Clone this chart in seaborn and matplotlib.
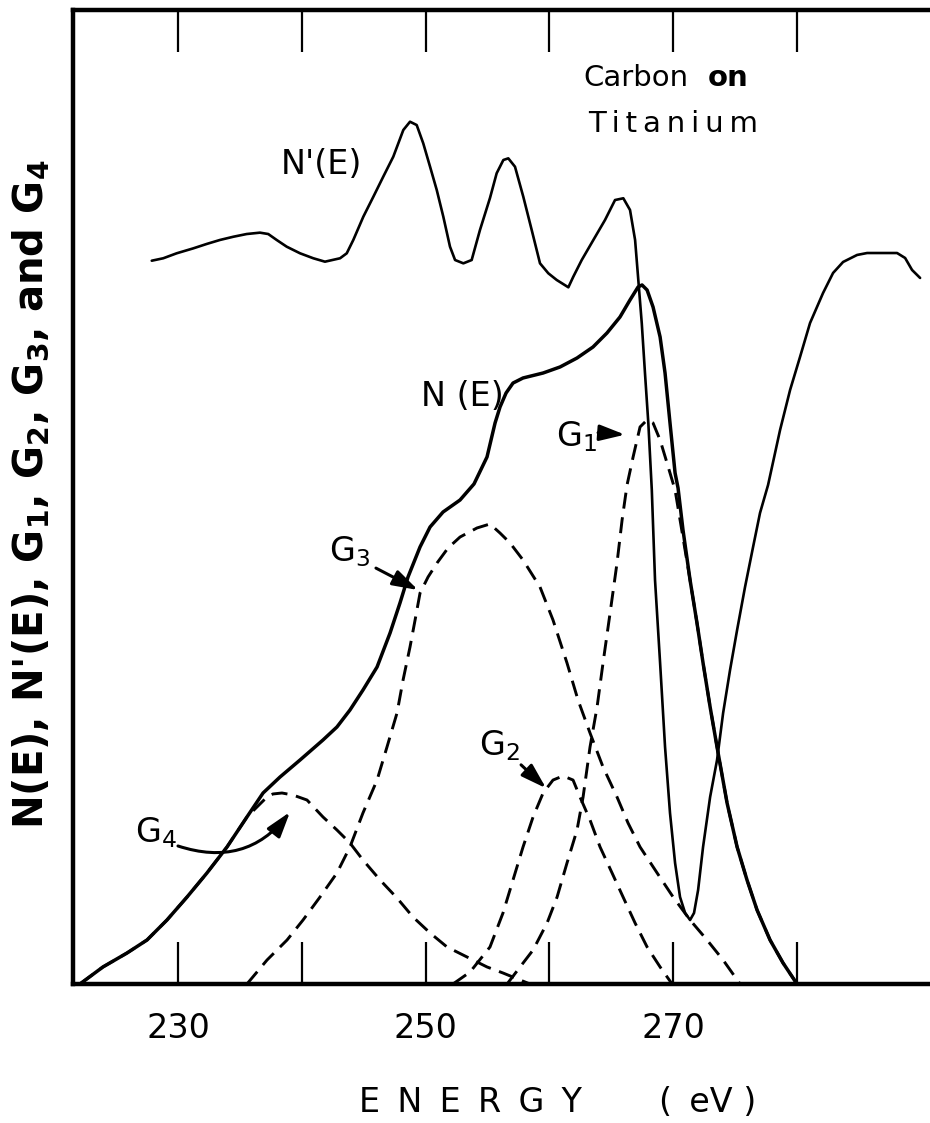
import matplotlib
matplotlib.use("Agg")
import matplotlib.pyplot as plt
import seaborn as sns

# ---------------- data ----------------
# N'(E): derivative spectrum
nprime_energy = [227.88, 228.81, 229.89, 231.24, 232.32, 233.39, 234.47, 235.55, 236.62, 237.29,
                 237.97, 238.78, 239.86, 240.93, 241.87, 243.09, 243.63, 244.16, 244.97, 245.78,
                 246.58, 247.39, 248.20, 248.74, 249.28, 249.81, 250.36, 250.90, 251.43, 251.97,
                 252.38, 253.05, 253.72, 254.39, 255.20, 255.74, 256.28, 256.68, 257.22, 257.89,
                 258.57, 259.24, 259.91, 260.59, 261.53, 261.93, 262.61, 263.55, 264.49, 265.30,
                 265.97, 266.51, 266.92, 267.18, 267.46, 267.72, 267.99, 268.27, 268.53, 268.94,
                 269.34, 269.74, 270.15, 270.55, 270.96, 271.36, 271.68, 272.01, 272.41, 272.98,
                 273.54, 274.03, 274.59, 275.16, 275.80, 276.45, 277.01, 277.66, 278.63, 279.44,
                 280.24, 281.05, 282.10, 282.91, 283.72, 284.85, 285.66, 286.95, 288.08, 288.73,
                 289.29, 289.94]
nprime_value = [74.26, 74.51, 75.02, 75.53, 75.98, 76.39, 76.72, 77.00, 77.14, 77.00,
                76.39, 75.70, 75.02, 74.51, 74.16, 74.51, 75.02, 76.39, 78.78, 80.83,
                82.89, 84.94, 87.68, 88.53, 88.19, 86.31, 83.91, 81.52, 78.78, 75.70,
                74.33, 73.99, 74.33, 77.41, 80.70, 83.24, 84.60, 84.77, 83.91, 80.83,
                77.41, 73.99, 72.97, 72.28, 71.53, 72.62, 74.33, 76.39, 78.44, 80.49,
                80.67, 79.47, 76.39, 72.28, 67.83, 62.70, 57.57, 50.72, 41.48, 32.96,
                24.33, 17.56, 12.42, 8.93, 7.29, 6.57, 7.29, 9.65, 14.07, 19.20,
                23.00, 27.82, 32.24, 36.35, 40.76, 44.87, 48.36, 51.23, 56.88, 60.99,
                64.37, 67.86, 70.94, 73.00, 74.13, 74.85, 75.05, 75.05, 75.05, 74.54,
                73.31, 72.49]

# N(E): energy distribution
ne_energy = [222.08, 223.94, 225.88, 227.50, 229.11, 230.73, 232.34, 233.96, 235.57, 236.87,
             238.24, 239.86, 241.71, 242.84, 243.89, 244.94, 246.08, 247.13, 247.93, 248.58,
             249.55, 250.36, 251.41, 252.78, 253.91, 254.96, 255.61, 256.01, 256.50, 257.06,
             257.87, 259.49, 260.86, 262.23, 263.52, 264.65, 265.70, 266.51, 267.16, 267.48,
             267.89, 268.37, 268.94, 269.34, 269.74, 270.15, 270.39, 270.79, 271.36, 271.92,
             272.41, 272.98, 273.54, 274.35, 275.16, 275.96, 276.77, 277.82, 278.87, 280.00]
ne_value = [0.0, 1.75, 3.18, 4.52, 6.57, 8.93, 11.40, 14.07, 17.15, 19.61,
            21.25, 23.00, 25.05, 26.39, 28.13, 30.18, 32.55, 36.04, 39.12, 41.79,
            44.87, 46.92, 48.46, 49.69, 51.34, 54.11, 57.60, 59.24, 60.68, 61.70,
            62.22, 62.73, 63.35, 64.27, 65.40, 66.84, 68.48, 70.23, 71.56, 71.77,
            71.25, 69.51, 66.43, 62.73, 57.60, 52.46, 50.92, 46.61, 41.48, 37.06,
            32.96, 28.44, 24.33, 18.58, 14.07, 10.68, 7.60, 4.52, 2.16, 0.0]

# Gaussian components
g1_energy = [256.58, 257.63, 258.68, 259.81, 260.62, 261.42, 262.23, 262.72, 263.28, 263.85,
             264.33, 264.90, 265.46, 265.87, 266.27, 266.76, 267.32, 267.89, 268.37, 268.94,
             269.50, 270.15, 271.36, 271.92, 272.41, 272.98, 273.54, 274.35, 275.16, 275.96,
             276.77, 277.82, 278.87, 280.00]
g1_value = [0.0, 1.75, 3.49, 6.26, 8.93, 12.42, 15.81, 19.20, 24.33, 28.44,
            32.96, 38.09, 43.22, 47.64, 51.23, 54.11, 57.19, 57.91, 57.60, 55.85,
            53.49, 50.72, 41.48, 37.06, 32.96, 28.44, 24.33, 18.58, 14.07, 10.68,
            7.60, 4.52, 2.16, 0.0]

g2_energy = [252.21, 253.59, 255.20, 256.25, 257.06, 257.87, 258.68, 259.49, 260.29, 261.10,
             261.91, 262.47, 263.28, 264.09, 265.06, 265.95, 266.92, 267.89, 268.94, 269.91]
g2_value = [0.0, 1.23, 3.80, 7.29, 10.68, 14.07, 17.15, 19.61, 20.94, 21.36,
            20.94, 19.20, 16.84, 14.07, 11.40, 8.93, 6.26, 3.80, 1.75, 0.0]

g3_energy = [235.57, 237.19, 238.81, 240.10, 241.47, 242.84, 243.89, 244.94, 246.08, 246.88,
             247.69, 248.18, 248.74, 249.15, 249.55, 250.20, 250.92, 251.81, 252.78, 254.15,
             255.20, 256.01, 256.82, 257.87, 259.24, 260.29, 261.42, 262.31, 263.28, 264.33,
             265.46, 266.35, 267.32, 268.70, 269.99, 271.36, 272.73, 274.03, 275.40]
g3_value = [0.0, 2.46, 4.52, 6.57, 8.93, 11.40, 14.07, 17.56, 20.94, 24.33,
            27.82, 31.21, 34.60, 37.37, 40.14, 41.79, 43.22, 44.76, 45.89, 46.82,
            47.23, 46.30, 45.28, 43.53, 40.76, 37.37, 32.96, 29.16, 25.77, 22.28,
            19.20, 16.53, 14.07, 11.40, 8.93, 6.57, 4.52, 2.46, 0.0]

g4_energy = [222.08, 223.94, 225.88, 227.50, 229.11, 230.73, 232.34, 233.96, 235.57, 237.19,
             237.67, 238.40, 239.29, 240.42, 241.71, 242.84, 243.89, 244.94, 246.32, 247.69,
             248.98, 250.36, 251.73, 253.35, 254.96, 256.25, 258.43]
g4_value = [0.0, 1.75, 3.18, 4.52, 6.57, 8.93, 11.40, 14.07, 17.15, 19.20,
            19.51, 19.61, 19.40, 18.89, 17.15, 15.81, 14.48, 12.73, 10.68, 8.83,
            6.88, 5.24, 3.80, 2.77, 1.75, 1.13, 0.0]

tick_values = [230, 240, 250, 260, 270, 280]
tick_labels = ["230", "", "250", "", "270", ""]

# ---------------- style ----------------
sns.set_theme(style="white")
plt.rcParams['font.family'] = ['DejaVu Sans']
plt.rcParams['mathtext.fontset'] = 'dejavusans'
plt.rcParams['text.color'] = 'black'
plt.rcParams['axes.labelcolor'] = 'black'
plt.rcParams['xtick.color'] = 'black'
plt.rcParams['ytick.color'] = 'black'

W, H = 930, 1123
fig = plt.figure(figsize=(W / 100, H / 100), dpi=100)
fig.patch.set_facecolor('white')
ax = fig.add_axes([73 / W, 139 / H, 857 / W, 974 / H])
ax.set_facecolor('white')


def draw(E, V, lw, dashed=False):
    sns.lineplot(x=E, y=V, ax=ax, color='black', linewidth=lw,
                 sort=False, estimator=None)
    line = ax.lines[-1]
    if dashed:
        line.set_dashes([5.5, 3.0])
        line.set_dash_capstyle('butt')
        line.set_dash_joinstyle('round')
    else:
        line.set_solid_joinstyle('round')
        line.set_solid_capstyle('round')


draw(g4_energy, g4_value, 2.1, dashed=True)
draw(g3_energy, g3_value, 2.1, dashed=True)
draw(g2_energy, g2_value, 2.1, dashed=True)
draw(g1_energy, g1_value, 2.1, dashed=True)
draw(ne_energy, ne_value, 2.5)
draw(nprime_energy, nprime_value, 1.9)

ax.set_xlim(221.52, 290.74)
ax.set_ylim(0, 100)
ax.set_yticks([])
ax.set_xticks(tick_values)
ax.set_xticklabels(tick_labels, fontsize=24, color='black')
ax.tick_params(axis='x', which='both', direction='in', length=30, width=1.6,
               top=True, bottom=True, pad=20, colors='black')
for side in ['left', 'bottom', 'top']:
    ax.spines[side].set_visible(True)
    ax.spines[side].set_linewidth(3.2)
    ax.spines[side].set_color('black')
ax.spines['right'].set_visible(False)
ax.set_xlabel('')
ax.set_ylabel('')

# ---------------- annotations ----------------
ax.text(241.55, 84.1, "N'(E)", fontsize=24, ha='center', va='center')
ax.text(252.94, 60.3, "N (E)", fontsize=24, ha='center', va='center')
ax.text(262.15, 56.2, "G$_1$", fontsize=24, ha='center', va='center')
ax.text(243.89, 44.35, "G$_3$", fontsize=24, ha='center', va='center')
ax.text(255.93, 24.5, "G$_2$", fontsize=24, ha='center', va='center')
ax.text(228.22, 15.5, "G$_4$", fontsize=24, ha='center', va='center')

arrow = dict(arrowstyle="-|>,head_length=0.7,head_width=0.22", color='black',
             lw=2.2, mutation_scale=22, shrinkA=0, shrinkB=0)
ax.annotate('', xy=(266.11, 56.4), xytext=(263.93, 56.6), arrowprops=arrow)
ax.annotate('', xy=(249.39, 40.45), xytext=(245.99, 42.7), arrowprops=arrow)
ax.annotate('', xy=(259.73, 20.1), xytext=(257.71, 22.5), arrowprops=arrow)
ax.annotate('', xy=(239.05, 17.66), xytext=(230.0, 14.17),
            arrowprops=dict(arrow, connectionstyle="arc3,rad=0.35"))

ts = "\u2009"
ax.text(262.71, 93.0, "Carbon", fontsize=21, ha='left', va='center')
ax.text(272.81, 93.0, "on", fontsize=21, fontweight='bold', ha='left', va='center')
ax.text(263.12, 88.3, ts.join("Titanium"), fontsize=21, ha='left', va='center')

fig.text(31 / W, 1 - 494 / H,
         r"N(E), N'(E), G$_\mathbf{1}$, G$_\mathbf{2}$, G$_\mathbf{3}$, and G$_\mathbf{4}$",
         rotation=90, ha='center', va='center', fontsize=29, fontweight='bold')
fig.text(470 / W, 1 - 1102 / H, " \u2009".join("ENERGY"),
         ha='center', va='center', fontsize=24)
fig.text(708 / W, 1 - 1102 / H, "(\u2009 eV )",
         ha='center', va='center', fontsize=24)

fig.savefig("out.png", dpi=100, facecolor='white')
